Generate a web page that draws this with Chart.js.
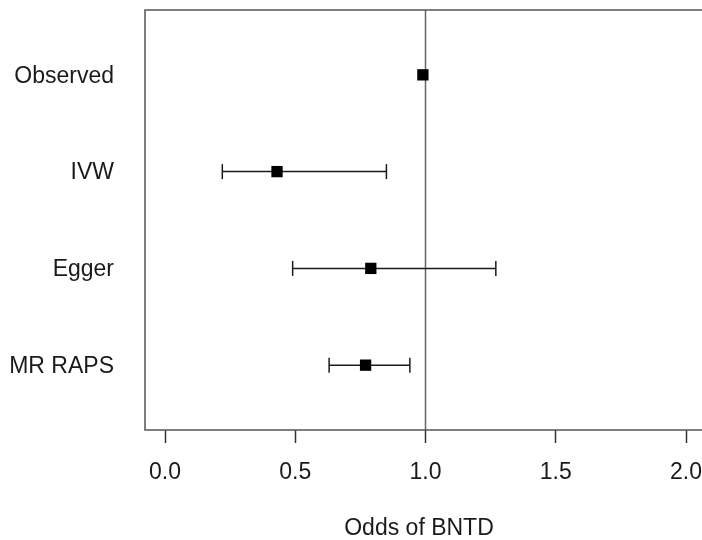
<!DOCTYPE html>
<html>
<head>
<meta charset="utf-8">
<script src="https://cdn.jsdelivr.net/npm/chart.js@4/dist/chart.umd.min.js"></script>
<style>
  html, body { margin: 0; padding: 0; background: #fff; }
  #wrap { width: 702px; height: 540px; }
</style>
</head>
<body>
<div id="wrap"><canvas id="forest"></canvas></div>
<script>
// ---- data ----
const methods = ["Observed", "IVW", "Egger", "MR RAPS"];
const estimates = [0.99, 0.43, 0.79, 0.77];
const lowers = [null, 0.22, 0.49, 0.63];
const uppers = [null, 0.85, 1.27, 0.94];
const xTicks = [0, 0.5, 1, 1.5, 2];
const refValue = 1;

// rows from top to bottom: Observed = 4 ... MR RAPS = 1
const rowOf = i => methods.length - i;
const yMin = 0.33, yMax = 4.67;

// where 0.0 sits and how many pixels one unit takes (the axis runs off the right edge)
const zeroPx = 165, pxPerUnit = 260.5;

// one small line dataset per confidence interval
const ciSets = [];
const capPoints = [];
methods.forEach((m, i) => {
  if (lowers[i] == null) return;
  ciSets.push({
    type: "line",
    data: [{ x: lowers[i], y: rowOf(i) }, { x: uppers[i], y: rowOf(i) }],
    borderColor: "#1a1a1a",
    borderWidth: 1.5,
    pointRadius: 0,
    order: 3
  });
  capPoints.push({ x: lowers[i], y: rowOf(i) }, { x: uppers[i], y: rowOf(i) });
});

// box round the plot region (right side runs off the canvas)
const framePlugin = {
  id: "frame",
  afterDraw(chart) {
    const a = chart.chartArea;
    const ctx = chart.ctx;
    ctx.save();
    ctx.strokeStyle = "#555";
    ctx.lineWidth = 1.5;
    ctx.beginPath();
    ctx.moveTo(chart.width, a.top);
    ctx.lineTo(a.left, a.top);
    ctx.lineTo(a.left, a.bottom);
    ctx.lineTo(chart.width, a.bottom);
    ctx.stroke();
    ctx.restore();
  }
};

// once the plot area is known, set the x range so ticks land where they should
let rangeFixed = false;
const rangePlugin = {
  id: "xrange",
  afterLayout(chart) {
    if (rangeFixed) return;
    rangeFixed = true;
    const a = chart.chartArea;
    chart.options.scales.x.min = -(zeroPx - a.left) / pxPerUnit;
    chart.options.scales.x.max = (a.right - zeroPx) / pxPerUnit;
    setTimeout(() => chart.update("none"), 0);
  }
};

const font = { family: "Liberation Sans, Arial, sans-serif", size: 23 };

new Chart(document.getElementById("forest"), {
  type: "scatter",
  data: {
    datasets: [
      {
        type: "line",
        data: [{ x: refValue, y: yMin }, { x: refValue, y: yMax }],
        borderColor: "#666",
        borderWidth: 1.5,
        pointRadius: 0,
        order: 4
      },
      ...ciSets,
      {
        data: capPoints,
        pointStyle: "line",
        rotation: 90,
        radius: 7.5,
        borderColor: "#1a1a1a",
        borderWidth: 1.5,
        order: 2
      },
      {
        data: estimates.map((v, i) => ({ x: v, y: rowOf(i) })),
        pointStyle: "rect",
        radius: 8,
        backgroundColor: "#000",
        borderColor: "#000",
        borderWidth: 0,
        order: 1
      }
    ]
  },
  options: {
    responsive: true,
    maintainAspectRatio: false,
    animation: false,
    layout: { padding: { top: 10, right: 0, left: 0, bottom: 0 } },
    plugins: {
      legend: { display: false },
      tooltip: { enabled: false }
    },
    scales: {
      x: {
        type: "linear",
        min: -0.0768,
        max: 2.0614,
        afterBuildTicks: s => { s.ticks = xTicks.map(v => ({ value: v })); },
        afterFit: s => { s.height = 110; s.paddingLeft = 0; s.paddingRight = 0; },
        border: { display: false },
        grid: {
          drawOnChartArea: false,
          drawTicks: true,
          tickLength: 13,
          tickColor: "#333",
          tickWidth: 1.5
        },
        ticks: {
          color: "#1a1a1a",
          padding: 16,
          maxRotation: 0,
          font: font,
          callback: v => v.toFixed(1)
        },
        title: {
          display: true,
          text: "Odds of BNTD",
          color: "#1a1a1a",
          padding: { top: 0, bottom: -2 },
          font: font
        }
      },
      y: {
        type: "linear",
        min: yMin,
        max: yMax,
        afterBuildTicks: s => { s.ticks = methods.map((m, i) => ({ value: rowOf(i) })); },
        afterFit: s => { s.width = 145; s.paddingTop = 0; s.paddingBottom = 0; },
        border: { display: false },
        grid: { display: false, drawTicks: false },
        ticks: {
          color: "#1a1a1a",
          padding: 31,
          labelOffset: 1.5,
          font: font,
          callback: v => methods[methods.length - v]
        }
      }
    }
  },
  plugins: [framePlugin, rangePlugin]
});
</script>
</body>
</html>
